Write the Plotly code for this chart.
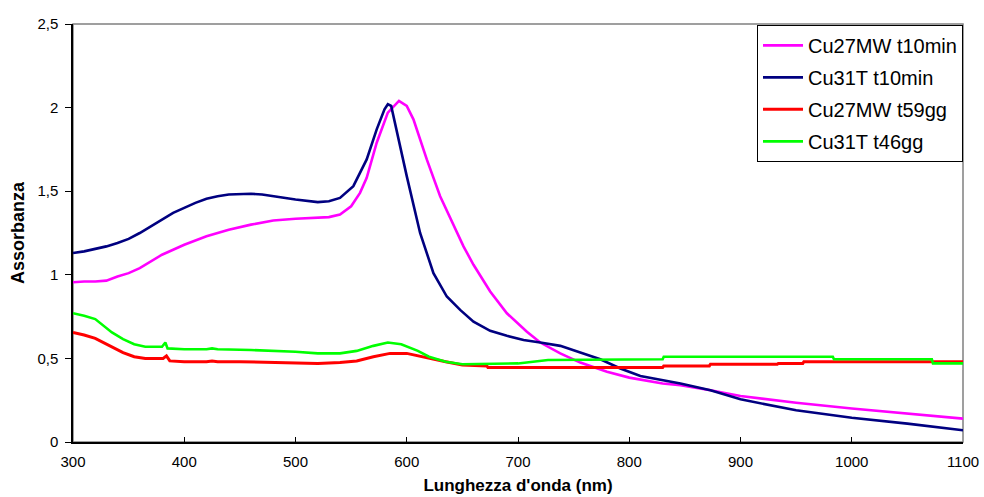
import plotly.graph_objects as go

# Wavelength (nm) and absorbance for each spectrum
wl_cu27_10 = [300, 310, 320, 330, 340, 350, 360, 370, 380, 390, 400, 420, 440, 460, 480,
              500, 520, 530, 540, 550, 558, 564, 573, 583, 593, 600, 606, 618, 630, 645,
              651, 660, 675, 690, 708, 720, 738, 756, 780, 800, 830, 846, 873, 900, 950,
              1000, 1050, 1100]
abs_cu27_10 = [0.955, 0.96, 0.96, 0.965, 0.99, 1.01, 1.04, 1.08, 1.12, 1.15, 1.18, 1.23, 1.27,
               1.30, 1.325, 1.335, 1.34, 1.345, 1.36, 1.41, 1.49, 1.58, 1.79, 1.97, 2.04, 2.01,
               1.93, 1.69, 1.47, 1.25, 1.17, 1.06, 0.90, 0.77, 0.66, 0.595, 0.53, 0.475, 0.42,
               0.385, 0.35, 0.34, 0.31, 0.275, 0.235, 0.20, 0.17, 0.14]

wl_cu31_10 = [300, 310, 320, 330, 340, 350, 360, 370, 380, 390, 400, 410, 420, 430, 440, 460,
              470, 480, 500, 520, 530, 540, 552, 564, 573, 580, 583, 586, 590, 600, 612, 624,
              636, 648, 660, 675, 690, 705, 720, 738, 756, 774, 792, 810, 846, 873, 900, 950,
              1000, 1050, 1100]
abs_cu31_10 = [1.13, 1.14, 1.155, 1.17, 1.19, 1.215, 1.25, 1.29, 1.33, 1.37, 1.40, 1.43, 1.455,
               1.47, 1.48, 1.485, 1.48, 1.47, 1.45, 1.435, 1.44, 1.46, 1.53, 1.69, 1.87, 1.99,
               2.02, 2.01, 1.885, 1.59, 1.25, 1.01, 0.87, 0.79, 0.72, 0.665, 0.635, 0.61, 0.595,
               0.575, 0.535, 0.495, 0.44, 0.395, 0.35, 0.31, 0.255, 0.19, 0.145, 0.11, 0.07]

wl_cu27_59 = [300, 310, 320, 327, 335, 345, 355, 365, 375, 381, 384, 387, 400, 420, 425, 430,
              450, 500, 520, 540, 555, 570, 585, 600, 610, 620, 635, 650, 672, 673, 830, 831,
              872, 873, 933, 934, 956, 957, 1100]
abs_cu27_59 = [0.655, 0.64, 0.62, 0.595, 0.57, 0.535, 0.51, 0.50, 0.50, 0.50, 0.515, 0.485,
               0.48, 0.48, 0.485, 0.48, 0.48, 0.475, 0.47, 0.475, 0.485, 0.51, 0.53, 0.53,
               0.515, 0.50, 0.48, 0.46, 0.455, 0.445, 0.445, 0.455, 0.455, 0.465, 0.465, 0.47,
               0.47, 0.48, 0.48]

wl_cu31_46 = [300, 310, 320, 327, 335, 345, 355, 365, 380, 383, 385, 400, 420, 425, 430, 460,
              480, 500, 520, 540, 555, 570, 583, 595, 610, 620, 635, 650, 700, 707, 727, 830,
              831, 983, 984, 1072, 1073, 1100]
abs_cu31_46 = [0.77, 0.755, 0.735, 0.70, 0.655, 0.615, 0.585, 0.57, 0.57, 0.595, 0.56, 0.555,
               0.555, 0.56, 0.555, 0.55, 0.545, 0.54, 0.53, 0.53, 0.545, 0.575, 0.595, 0.585,
               0.545, 0.51, 0.48, 0.465, 0.47, 0.475, 0.49, 0.495, 0.51, 0.51, 0.495, 0.495,
               0.47, 0.47]

series = [
    ("Cu27MW t10min", wl_cu27_10, abs_cu27_10, "#FF00FF"),
    ("Cu31T t10min", wl_cu31_10, abs_cu31_10, "#000080"),
    ("Cu27MW t59gg", wl_cu27_59, abs_cu27_59, "#FF0000"),
    ("Cu31T t46gg", wl_cu31_46, abs_cu31_46, "#00FF00"),
]

x_ticks = [300, 400, 500, 600, 700, 800, 900, 1000, 1100]
y_ticks = [0, 0.5, 1, 1.5, 2, 2.5]

fig = go.Figure()
for i, (name, xs, ys, color) in enumerate(series):
    fig.add_trace(go.Scatter(
        x=xs, y=ys, name=name, mode="lines",
        line=dict(color=color, width=3 if "t59gg" in name else 2.6),
        legendgroup=str(i),
    ))

font_family = "Liberation Sans, Arial, sans-serif"

fig.update_layout(
    width=984, height=497,
    margin=dict(l=73, r=21, t=24, b=55),
    paper_bgcolor="white", plot_bgcolor="white",
    separators=",.",
    font=dict(family=font_family, color="black"),
    showlegend=True,
    legend=dict(
        x=1.0, y=0.998, xanchor="right", yanchor="top",
        bgcolor="white", bordercolor="black", borderwidth=1,
        font=dict(size=20, family=font_family, color="black"),
        tracegroupgap=3, traceorder="grouped", itemwidth=40,
    ),
    xaxis=dict(
        range=[300, 1100], tickvals=x_ticks, ticks="inside", ticklen=5,
        tickcolor="black", showline=True, linecolor="black", linewidth=1.5,
        showgrid=False, zeroline=False, tickfont=dict(size=15),
        ticklabelstandoff=5, automargin=False,
        title=dict(text="<b>Lunghezza d'onda (nm)</b>", font=dict(size=17), standoff=10),
    ),
    yaxis=dict(
        range=[0, 2.5], tickvals=y_ticks, ticks="outside", ticklen=6,
        tickcolor="black", showline=True, linecolor="black", linewidth=1.5,
        showgrid=False, zeroline=False, tickfont=dict(size=15),
        ticklabelstandoff=4, automargin=False,
        title=dict(text="<b>Assorbanza</b>", font=dict(size=18), standoff=8),
    ),
    shapes=[dict(
        type="rect", xref="paper", yref="paper", x0=0, x1=1, y0=0, y1=1,
        line=dict(color="#808080", width=1.5), layer="below",
    )],
)

fig.write_html("out.html")
